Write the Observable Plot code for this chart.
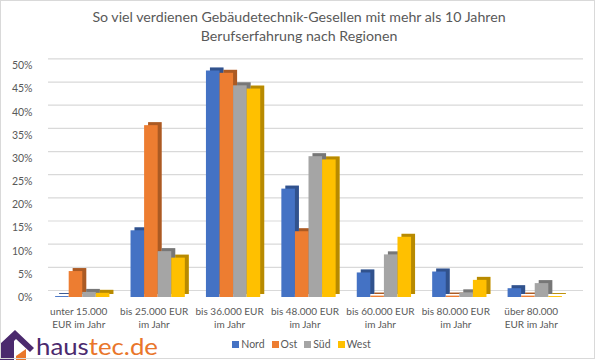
<!DOCTYPE html>
<html>
<head>
<meta charset="utf-8">
<script src="https://cdn.jsdelivr.net/npm/d3@7"></script>
<script src="https://cdn.jsdelivr.net/npm/@observablehq/plot@0.6"></script>
<style>
  html, body { margin: 0; padding: 0; background: #fff; }
  #wrap { position: relative; width: 600px; height: 360px; overflow: hidden; background: #fff; font-family: Lato, "Open Sans", sans-serif; color: #595959; }
  #border { position: absolute; left: 0; top: 0; width: 595px; height: 359px; border: 1px solid #d9d9d9; box-sizing: border-box; pointer-events: none; }
  #title { position: absolute; left: 0; top: 7px; width: 598px; text-align: center; font-size: 14.2px; line-height: 19px; color: #595959; }
  #chart { position: absolute; left: 0; top: 50px; }
  #legend { position: absolute; left: 0; top: 338px; width: 603px; display: flex; justify-content: center; gap: 7px; font-size: 10.5px; color: #595959; }
  #legend span.sw { display: inline-block; width: 7px; height: 7px; margin-right: 2px; vertical-align: 0px; }
  #logo { position: absolute; left: 0; top: 318px; }
</style>
</head>
<body>
<div id="wrap">
  <div id="title">So viel verdienen Gebäudetechnik-Gesellen mit mehr als 10 Jahren<br>Berufserfahrung nach Regionen</div>
  <div id="chart"></div>
  <div id="legend"></div>
  <svg id="logo" width="170" height="42" viewBox="0 318 170 42">
    <polygon points="0,344 15,330 34,348 30,352 16,339 14,341 14,360 0,360" fill="#4b2a6e"/>
    <polygon points="16,356 26,349 26,360 16,360" fill="#e9762b"/>
    <text x="36" y="355" font-family="Lato, 'Open Sans', sans-serif" font-size="23" textLength="122" lengthAdjust="spacingAndGlyphs"><tspan fill="#4b2a6e">haus</tspan><tspan fill="#e9762b">tec.de</tspan></text>
  </svg>
  <div id="border"></div>
</div>
<script>
const categories = [
  "unter 15.000\nEUR im Jahr",
  "bis 25.000 EUR\nim Jahr",
  "bis 36.000 EUR\nim Jahr",
  "bis 48.000 EUR\nim Jahr",
  "bis 60.000 EUR\nim Jahr",
  "bis 80.000 EUR\nim Jahr",
  "über 80.000\nEUR im Jahr"
];
const regions = ["Nord", "Ost", "Süd", "West"];
const nord = [0.2, 14.4, 48.9, 23.4, 5.3, 5.5, 1.9];
const ost  = [5.6, 37.1, 48.4, 14.2, 0.3, 0.3, 0.3];
const sued = [1.1, 9.9, 45.7, 30.4, 9.2, 1.0, 3.0];
const west = [0.9, 8.5, 45.0, 29.7, 13.0, 3.7, 0.2];
const yTicks = [0, 5, 10, 15, 20, 25, 30, 35, 40, 45, 50];
const colors = ["#4472C4", "#ED7D31", "#A5A5A5", "#FFC000"];

const series = [nord, ost, sued, west];
const barW = 0.18;
const rows = [];
categories.forEach((c, i) => {
  regions.forEach((r, j) => {
    const x1 = i - 2 * barW + j * barW;
    rows.push({cat: c, i, region: r, value: series[j][i], x1, x2: x1 + barW});
  });
});

const chart = Plot.plot({
  width: 600,
  height: 290,
  marginLeft: 34,
  marginRight: 17,
  marginTop: 15.4,
  marginBottom: 43,
  style: {fontFamily: "Lato, 'Open Sans', sans-serif", fontSize: "10.5px", color: "#595959", background: "transparent"},
  x: {type: "linear", domain: [-0.64, 6.64], axis: null},
  y: {domain: [0, 50], ticks: yTicks, tickFormat: d => `${d}%`, tickSize: 0, tickPadding: 2, label: null},
  color: {domain: regions, range: colors},
  marks: [
    Plot.ruleY(yTicks, {y: d => d, stroke: "#d9d9d9", strokeWidth: 1.2, dy: -7, insetLeft: 14}),
    Plot.rect(rows, {x1: "x1", x2: "x2", y1: 0, y2: "value", fill: "region", dx: 4, dy: -3}),
    Plot.rect(rows, {x1: "x1", x2: "x2", y1: 0, y2: "value", fill: "#000", fillOpacity: 0.28, dx: 4, dy: -3}),
    Plot.rect(rows, {x1: "x1", x2: "x2", y1: 0, y2: "value", fill: "region"}),
    Plot.text(categories, {x: (d, i) => i, text: d => d, frameAnchor: "bottom", lineAnchor: "top", dy: 9, dx: -4, fontSize: 10, lineHeight: 1.25, fill: "#595959"})
  ]
});
document.getElementById("chart").appendChild(chart);

const legend = document.getElementById("legend");
regions.forEach((r, j) => {
  const item = document.createElement("div");
  item.innerHTML = `<span class="sw" style="background:${colors[j]}"></span>${r}`;
  legend.appendChild(item);
});
</script>
</body>
</html>
